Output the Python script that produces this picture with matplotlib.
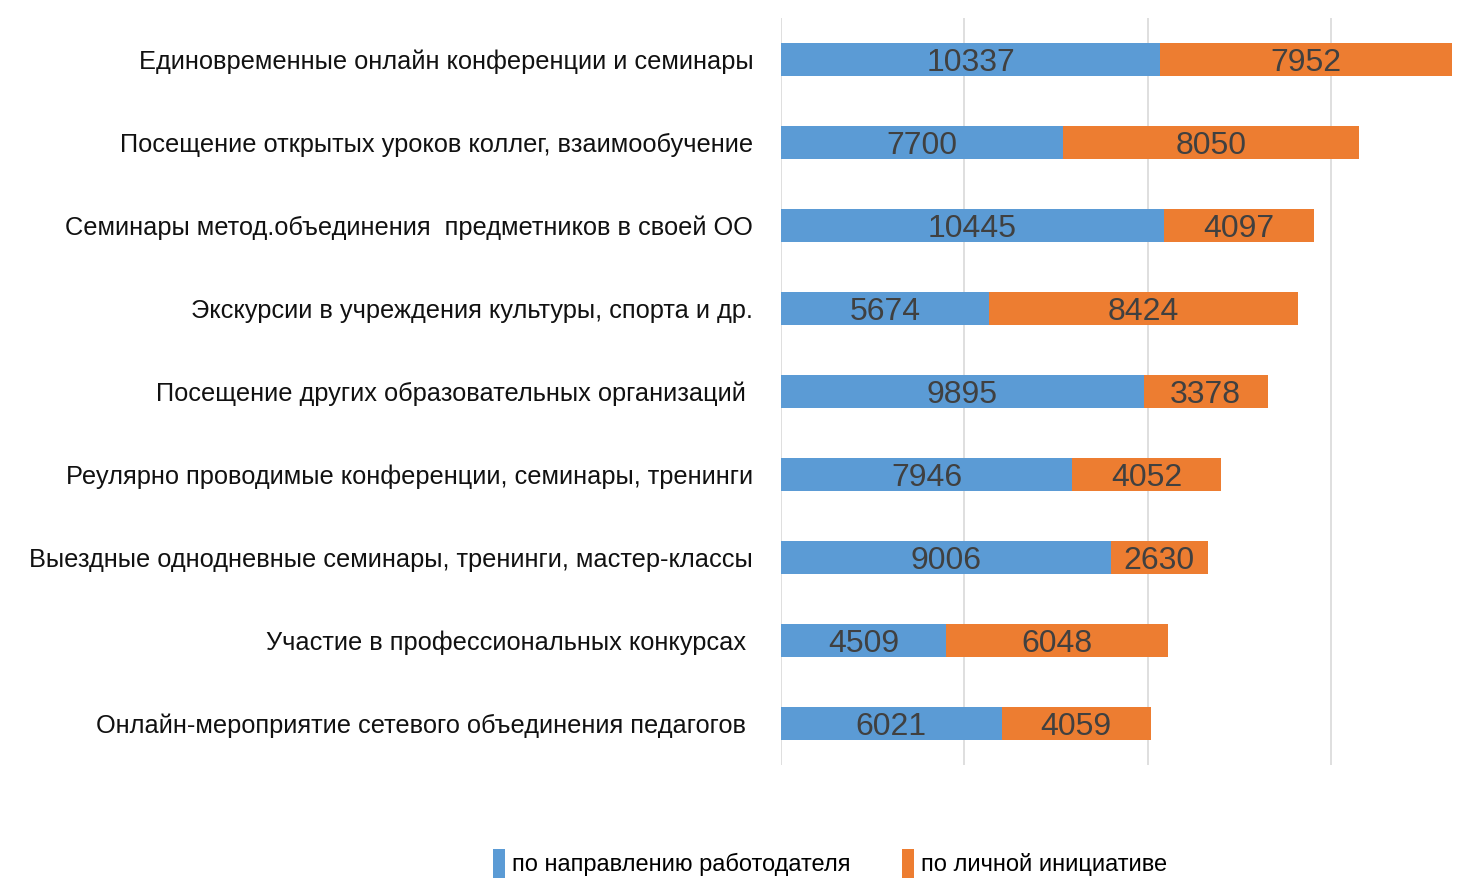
import matplotlib.pyplot as plt

categories = [
    "Единовременные онлайн конференции и семинары",
    "Посещение открытых уроков коллег, взаимообучение",
    "Семинары метод.объединения  предметников в своей ОО",
    "Экскурсии в учреждения культуры, спорта и др.",
    "Посещение других образовательных организаций ",
    "Реулярно проводимые конференции, семинары, тренинги",
    "Выездные однодневные семинары, тренинги, мастер-классы",
    "Участие в профессиональных конкурсах ",
    "Онлайн-мероприятие сетевого объединения педагогов ",
]
employer = [10337, 7700, 10445, 5674, 9895, 7946, 9006, 4509, 6021]
personal = [7952, 8050, 4097, 8424, 3378, 4052, 2630, 6048, 4059]
series_names = ["по направлению работодателя", "по личной инициативе"]

plt.rcParams['font.family'] = ['Liberation Sans', 'DejaVu Sans']

fig = plt.figure(figsize=(14.74, 8.81), dpi=100)
ax = fig.add_axes([781 / 1474, 1 - 765 / 881, 1 - 781 / 1474, (765 - 18) / 881])

y = list(range(len(categories)))
b1 = ax.barh(y, employer, height=0.39, color='#5B9BD5', label=series_names[0], zorder=2)
b2 = ax.barh(y, personal, left=employer, height=0.39, color='#ED7D31', label=series_names[1], zorder=2)

for bars in (b1, b2):
    labels = ax.bar_label(bars, label_type='center', fontsize=23, color='#404040')
    for t in labels:
        t.set_verticalalignment('center_baseline')

ax.set_ylim(len(categories) - 0.5, -0.5)
ax.set_xlim(0, 18900)
ax.set_xticks([0, 5000, 10000, 15000])
ax.set_xticklabels([])
ax.tick_params(axis='x', length=0)
ax.tick_params(axis='y', length=0, pad=20)
ax.grid(axis='x', color='#D9D9D9', linewidth=1.2, zorder=0)
ax.set_yticks(y)
ax.set_yticklabels(categories, fontsize=18.3, color='#111111')
for s in ax.spines.values():
    s.set_visible(False)

fig.legend(handles=[b1, b2], labels=series_names, loc='center',
           bbox_to_anchor=(830 / 1474, 0.02), ncol=2, frameon=False,
           fontsize=17, handlelength=0.5, handleheight=1.5, columnspacing=2.2,
           handletextpad=0.3, borderpad=0)

fig.savefig('out.png', dpi=100)
